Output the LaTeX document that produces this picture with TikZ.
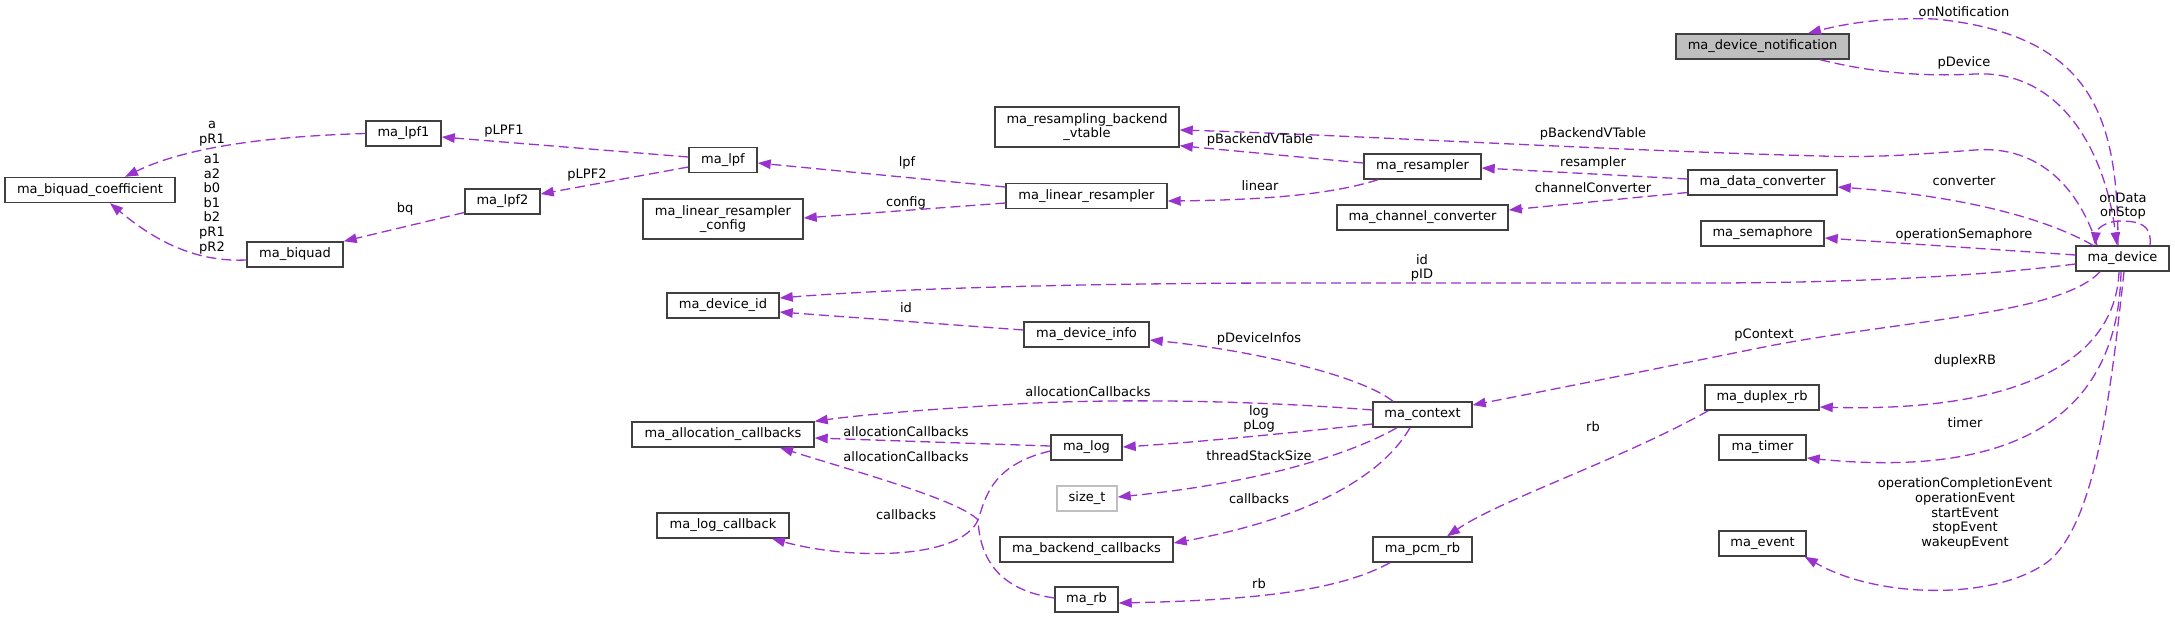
\documentclass[tikz,border=0pt]{standalone}
\usepackage{fontspec}
\setmainfont{DejaVu Sans}
\usetikzlibrary{arrows.meta}
\definecolor{edgec}{HTML}{9A32CD}
\definecolor{boxc}{HTML}{404040}
\definecolor{grayfill}{HTML}{BFBFBF}
\begin{document}
\begin{tikzpicture}[x=1pt,y=-1pt,
  box/.style={draw=boxc, line width=1.4pt, fill=white, minimum height=25pt, inner sep=0pt, align=center,
    font={\fontsize{13}{14}\selectfont}},
  box2/.style={box, minimum height=40pt},
  lbl/.style={inner sep=0pt, align=center, font={\fontsize{13}{14.6}\selectfont}},
  rel/.style={draw=edgec, line width=1.3pt, dash pattern=on 10pt off 5pt, -{Triangle[length=13pt,width=9.5pt]}}]
\useasboundingbox (0,0) rectangle (2175,619);

% nodes
\node[box, minimum width=173pt, fill=grayfill] (dn) at (1762.5,46.5) {ma\_device\_notification};
\node[box, minimum width=93pt] (dev) at (2122.5,258.5) {ma\_device};
\node[box, minimum width=149pt] (dc) at (1762.5,182.5) {ma\_data\_converter};
\node[box, minimum width=123pt] (sem) at (1762.5,233.5) {ma\_semaphore};
\node[box, minimum width=117pt] (res) at (1422.5,166.5) {ma\_resampler};
\node[box, minimum width=171pt] (cc) at (1422.5,217.5) {ma\_channel\_converter};
\node[box2, minimum width=184pt] (vt) at (1087,127) {ma\_resampling\_backend\\\_vtable};
\node[box, minimum width=161pt] (lr) at (1086.5,196) {ma\_linear\_resampler};
\node[box, minimum width=68pt] (lpf) at (723,160) {ma\_lpf};
\node[box, minimum width=75pt] (lpf1) at (403.5,133.5) {ma\_lpf1};
\node[box, minimum width=75pt] (lpf2) at (502.5,201.5) {ma\_lpf2};
\node[box2, minimum width=160pt] (lrc) at (723,219) {ma\_linear\_resampler\\\_config};
\node[box, minimum width=170pt] (bqc) at (90,190) {ma\_biquad\_coefficient};
\node[box, minimum width=96pt] (bq) at (295,254.5) {ma\_biquad};
\node[box, minimum width=112pt] (did) at (723,305.5) {ma\_device\_id};
\node[box, minimum width=125pt] (dinfo) at (1086.5,334.5) {ma\_device\_info};
\node[box, minimum width=182pt] (ac) at (723,434.5) {ma\_allocation\_callbacks};
\node[box, minimum width=71pt] (log) at (1086.5,447.5) {ma\_log};
\node[box, minimum width=60pt, draw=grayfill] (sz) at (1087,498.5) {size\_t};
\node[box, minimum width=132pt] (lc) at (723,525.5) {ma\_log\_callback};
\node[box, minimum width=173pt] (bc) at (1086.5,549.5) {ma\_backend\_callbacks};
\node[box, minimum width=63pt] (rb) at (1086.5,599.5) {ma\_rb};
\node[box, minimum width=99pt] (ctx) at (1422.5,414.5) {ma\_context};
\node[box, minimum width=99pt] (pcm) at (1422.5,549.5) {ma\_pcm\_rb};
\node[box, minimum width=114pt] (drb) at (1762,397.5) {ma\_duplex\_rb};
\node[box, minimum width=87pt] (tm) at (1762.5,447.5) {ma\_timer};
\node[box, minimum width=87pt] (ev) at (1762.5,543.5) {ma\_event};

% edges
\draw[rel] ([xshift=-4.5pt]dev.north) .. controls (2118,120) and (2095,35) .. (1935,19)
  .. controls (1880,17) and (1840,25) .. ([xshift=45.5pt]dn.north);
\draw[rel] ([xshift=57.5pt]dn.south) .. controls (1870,72) and (1920,77) .. (1975,74)
  .. controls (2060,70) and (2105,150) .. ([xshift=-5.5pt]dev.north);
\draw[rel] ([xshift=-25.5pt]dev.north) .. controls (2080,190) and (2040,145) .. (1975,150)
  .. controls (1920,154) and (1880,158) .. (1820,156)
  .. controls (1600,150) and (1350,135) .. ([yshift=-3pt]vt.east);
\draw[rel] ([yshift=3.5pt]res.west) -- ([yshift=2pt]vt.south east);
\draw[rel] ([yshift=3.5pt]dc.west) -- ([yshift=-1.5pt]res.east);
\draw[rel] ([yshift=-10pt]dc.west) -- ([yshift=7.5pt]cc.east);
\draw[rel] ([xshift=-29.5pt]dev.north) .. controls (2040,215) and (1950,195) .. ([yshift=-4.5pt]dc.east);
\draw[rel] ([yshift=3.5pt]dev.west) -- ([yshift=-4.5pt]sem.east);
\draw[rel] ([xshift=27.5pt]dev.north) .. controls (2152,225) and (2140,221) .. (2120,221)
  .. controls (2105,221) and (2096,230) .. ([xshift=-27.5pt]dev.north);
\draw[rel] ([xshift=-44.5pt]res.south) .. controls (1330,195) and (1260,200) .. ([yshift=-5pt]lr.east);
\draw[rel] ([yshift=9pt]lr.west) -- ([yshift=-3pt]lpf.east);
\draw[rel] ([yshift=-7pt]lr.west) -- ([yshift=1pt]lrc.east);
\draw[rel] ([yshift=3pt]lpf.west) -- ([yshift=-3.5pt]lpf1.east);
\draw[rel] ([yshift=-7pt]lpf.west) -- ([yshift=7.5pt]lpf2.east);
\draw[rel] (lpf1.west) .. controls (280,136) and (190,145) .. ([xshift=35pt]bqc.north);
\draw[rel] ([yshift=-5.5pt]bq.west) .. controls (200,262) and (160,245) .. ([xshift=20pt]bqc.south);
\draw[rel] ([yshift=-11pt]lpf2.west) -- (bq.north east);
\draw[rel] ([yshift=-5.5pt]dev.west) .. controls (1950,280) and (1800,283) .. (1700,283)
  -- (1300,283) .. controls (1100,283) and (900,288) .. ([yshift=7.5pt]did.east);
\draw[rel] ([yshift=4.5pt]dinfo.west) -- ([yshift=-6.5pt]did.east);
\draw[rel] ([xshift=-29.5pt]ctx.north) .. controls (1360,375) and (1250,350) .. ([yshift=-5.5pt]dinfo.east);
\draw[rel] ([xshift=-22.5pt]dev.south) .. controls (2060,315) and (1900,320) .. (1764,347)
  .. controls (1650,370) and (1550,390) .. ([yshift=9.5pt]ctx.east);
\draw[rel] ([yshift=4.5pt]ctx.west) .. controls (1250,400) and (1100,398) .. (1000,405)
  .. controls (920,410) and (860,415) .. (ac.north east);
\draw[rel] ([yshift=1.5pt]log.west) -- ([yshift=-3.5pt]ac.east);
\draw[rel] ([yshift=1.5pt]rb.west) .. controls (1000,590) and (980,560) .. (978,520)
  .. controls (960,500) and (850,470) .. ([xshift=57pt]ac.south);
\draw[rel] ([yshift=-3.5pt]log.west) .. controls (990,465) and (985,500) .. (978,520)
  .. controls (960,560) and (850,560) .. ([xshift=49pt]lc.south);
\draw[rel] ([yshift=-9.5pt]ctx.west) .. controls (1300,432) and (1200,442) .. ([yshift=0.5pt]log.east);
\draw[rel] ([xshift=-25.5pt]ctx.south) .. controls (1340,460) and (1240,485) .. ([yshift=1.5pt]sz.east);
\draw[rel] ([xshift=-12.5pt]ctx.south) .. controls (1380,480) and (1300,520) .. ([yshift=6.5pt]bc.east);
\draw[rel] ([xshift=4pt]drb.south west) .. controls (1620,460) and (1500,500) .. ([xshift=24.5pt]pcm.north);
\draw[rel] ([xshift=-32.5pt]pcm.south) .. controls (1340,590) and (1260,600) .. ([yshift=-3.5pt]rb.east);
\draw[rel] ([xshift=-3.5pt]dev.south) .. controls (2115,370) and (2000,412) .. ([yshift=-9.5pt]drb.east);
\draw[rel] ([xshift=-1.5pt]dev.south) .. controls (2118,420) and (2010,478) .. ([yshift=-10.5pt]tm.east);
\draw[rel] ([xshift=1.5pt]dev.south) .. controls (2110,400) and (2095,520) .. (2050,560)
  .. controls (2000,600) and (1880,600) .. ([xshift=-2pt]ev.south east);

% labels
\node[lbl] (l1) at (1964,12) {onNotification};
\node[lbl] (l2) at (1964,63) {pDevice};
\node[lbl] (l3) at (1593,134) {pBackendVTable};
\node[lbl] (l4) at (1260,140) {pBackendVTable};
\node[lbl] (l5) at (1593,163) {resampler};
\node[lbl] (l6) at (1593,188) {channelConverter};
\node[lbl] (l7) at (1964,181) {converter};
\node[lbl] (l8) at (1964,235) {operationSemaphore};
\node[lbl] (l9) at (2123,206) {onData\\onStop};
\node[lbl] (l10) at (1260,186) {linear};
\node[lbl] (l11) at (907,163) {lpf};
\node[lbl] (l12) at (906,203) {config};
\node[lbl] (l13) at (504,131) {pLPF1};
\node[lbl] (l14) at (587,175) {pLPF2};
\node[lbl] (l15) at (212,134) {a\\pR1};
\node[lbl] (l16) at (212,204) {a1\\a2\\b0\\b1\\b2\\pR1\\pR2};
\node[lbl] (l17) at (405,209) {bq};
\node[lbl] (l18) at (1422,268) {id\\pID};
\node[lbl] (l19) at (906,308) {id};
\node[lbl] (l20) at (1259,339) {pDeviceInfos};
\node[lbl] (l21) at (1764,335) {pContext};
\node[lbl] (l22) at (1088,392) {allocationCallbacks};
\node[lbl] (l23) at (906,432) {allocationCallbacks};
\node[lbl] (l24) at (906,457) {allocationCallbacks};
\node[lbl] (l25) at (906,515) {callbacks};
\node[lbl] (l26) at (1259,419) {log\\pLog};
\node[lbl] (l27) at (1259,456) {threadStackSize};
\node[lbl] (l28) at (1259,499) {callbacks};
\node[lbl] (l29) at (1593,427) {rb};
\node[lbl] (l30) at (1259,584) {rb};
\node[lbl] (l31) at (1965,361) {duplexRB};
\node[lbl] (l32) at (1965,423) {timer};
\node[lbl] (l33) at (1965,513.5) {operationCompletionEvent\\operationEvent\\startEvent\\stopEvent\\wakeupEvent};
\end{tikzpicture}
\end{document}
